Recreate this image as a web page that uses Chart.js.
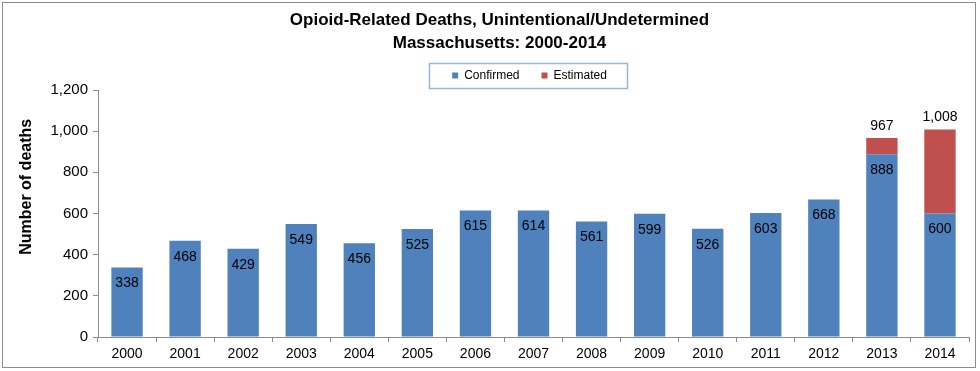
<!DOCTYPE html>
<html>
<head>
<meta charset="utf-8">
<script src="https://cdn.jsdelivr.net/npm/chart.js@4/dist/chart.umd.min.js"></script>
<style>
  html, body { margin: 0; padding: 0; background: #fff; }
  #wrap { width: 980px; height: 371px; position: relative; }
</style>
</head>
<body>
<div id="wrap"><canvas id="c" width="980" height="371"></canvas></div>
<script>
const years = ['2000','2001','2002','2003','2004','2005','2006','2007','2008','2009','2010','2011','2012','2013','2014'];
const confirmed = [338, 468, 429, 549, 456, 525, 615, 614, 561, 599, 526, 603, 668, 888, 600];
const totals = [null, null, null, null, null, null, null, null, null, null, null, null, null, 967, 1008];
const estimated = totals.map((t, i) => t == null ? null : t - confirmed[i]);
const yTicks = [0, 200, 400, 600, 800, 1000, 1200];

const BLUE = '#4F81BD';
const RED = '#C0504D';
const fmt = v => v.toLocaleString('en-US');

// Title / legend placement as in the reference (they are not centred on the plot)
const TITLE_SHIFT = 15;
const LEGEND_SHIFT = 45;
const LEGEND_ITEM_CENTER_Y = 75.5;
const LEGEND_PAD = 22;

const framePlugin = {
  id: 'frame',
  afterLayout(chart) {
    const t = chart.titleBlock;
    if (t) { t.left += TITLE_SHIFT; t.right += TITLE_SHIFT; }
    const lg = chart.legend;
    if (lg) {
      lg.left += LEGEND_SHIFT; lg.right += LEGEND_SHIFT;
      const itemH = 12;
      lg.top = LEGEND_ITEM_CENTER_Y - itemH / 2 - LEGEND_PAD;
      lg.bottom = lg.top + lg.height;
    }
  },
  beforeDraw(chart) {
    const ctx = chart.ctx;
    ctx.save();
    ctx.fillStyle = '#fff';
    ctx.fillRect(0, 0, chart.width, chart.height);
    ctx.strokeStyle = '#8c8c8c';
    ctx.lineWidth = 1;
    ctx.strokeRect(2.5, 2.5, 973, 365);
    ctx.restore();
  },
  afterDraw(chart) {
    const lg = chart.legend;
    if (!lg || !lg.legendHitBoxes || !lg.legendHitBoxes.length) return;
    const boxes = lg.legendHitBoxes;
    let l = Infinity, r = -Infinity, t = Infinity, b = -Infinity;
    boxes.forEach(h => { l = Math.min(l, h.left); r = Math.max(r, h.left + h.width); t = Math.min(t, h.top); b = Math.max(b, h.top + h.height); });
    const cy = (t + b) / 2;
    const ctx = chart.ctx;
    ctx.save();
    ctx.strokeStyle = '#9fb3d6';
    ctx.lineWidth = 1.5;
    ctx.strokeRect(Math.round(l - 23) + 0.5, Math.round(cy - 12.5) + 0.5, Math.round(r - l + 43), 25);
    ctx.restore();
  }
};

const labelPlugin = {
  id: 'barLabels',
  afterDatasetsDraw(chart) {
    const ctx = chart.ctx;
    ctx.save();
    ctx.font = '14px "Liberation Sans", Arial, sans-serif';
    ctx.fillStyle = '#000';
    ctx.textAlign = 'center';
    ctx.textBaseline = 'middle';
    const m0 = chart.getDatasetMeta(0);
    m0.data.forEach((el, i) => {
      ctx.fillText(fmt(confirmed[i]), el.x, el.y + 16);
    });
    const m1 = chart.getDatasetMeta(1);
    m1.data.forEach((el, i) => {
      if (totals[i] == null) return;
      ctx.fillText(fmt(totals[i]), el.x, el.y - 12);
    });
    ctx.restore();
  }
};

new Chart(document.getElementById('c'), {
  type: 'bar',
  data: {
    labels: years,
    datasets: [
      { label: 'Confirmed', data: confirmed, backgroundColor: BLUE, barPercentage: 0.54, categoryPercentage: 1.0 },
      { label: 'Estimated', data: estimated, backgroundColor: RED, barPercentage: 0.54, categoryPercentage: 1.0 }
    ]
  },
  options: {
    responsive: false,
    animation: false,
    devicePixelRatio: 1,
    layout: { padding: { left: 0, right: 11, top: 0, bottom: 4 } },
    plugins: {
      title: {
        display: true,
        text: ['Opioid-Related Deaths, Unintentional/Undetermined', 'Massachusetts: 2000-2014'],
        color: '#000',
        font: { family: '"Liberation Sans", Arial, sans-serif', size: 17, weight: 'bold', lineHeight: 1.4 },
        padding: { top: 8, bottom: 0 }
      },
      legend: {
        display: true,
        position: 'top',
        maxHeight: 34.4,
        labels: {
          color: '#000',
          boxWidth: 6,
          boxHeight: 6,
          padding: LEGEND_PAD,
          font: { family: '"Liberation Sans", Arial, sans-serif', size: 12 }
        }
      },
      tooltip: { enabled: false }
    },
    scales: {
      x: {
        stacked: true,
        afterFit(s) { s.height = 30; },
        grid: { display: true, drawOnChartArea: false, drawTicks: true, tickLength: 5, color: '#8c8c8c', offset: true },
        border: { display: true, color: '#8c8c8c', width: 1 },
        ticks: { color: '#000', padding: 4, font: { family: '"Liberation Sans", Arial, sans-serif', size: 14 } }
      },
      y: {
        stacked: true,
        min: 0,
        max: 1200,
        afterFit(s) { s.width = 98; },
        afterBuildTicks(s) { s.ticks = yTicks.map(v => ({ value: v })); },
        grid: { display: true, drawOnChartArea: false, drawTicks: true, tickLength: 5, color: '#8c8c8c' },
        border: { display: true, color: '#8c8c8c', width: 1 },
        ticks: { color: '#000', padding: 5, callback: v => fmt(v), font: { family: '"Liberation Sans", Arial, sans-serif', size: 15 } },
        title: {
          display: true,
          text: '            Number of deaths',
          color: '#000',
          padding: { top: 17, bottom: 0 },
          font: { family: '"Liberation Sans", Arial, sans-serif', size: 16, weight: 'bold' }
        }
      }
    }
  },
  plugins: [framePlugin, labelPlugin]
});
</script>
</body>
</html>
